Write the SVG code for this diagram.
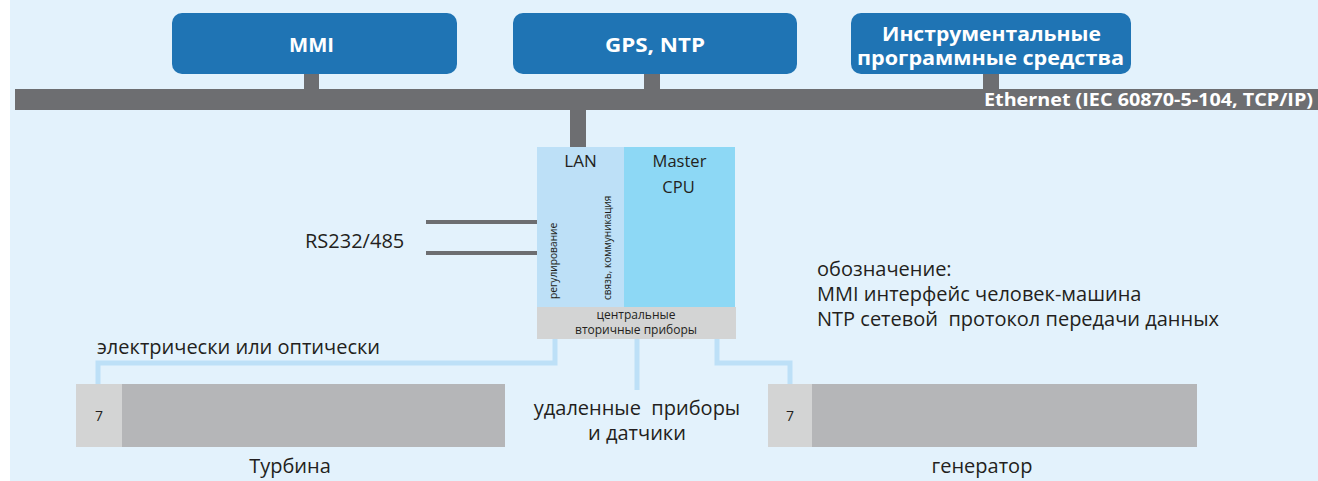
<svg xmlns="http://www.w3.org/2000/svg" width="1318" height="481" viewBox="0 0 1318 481">
<style>
.bg{fill:#e3f2fc}
.top{fill:#1f74b4}
.bar{fill:#6d6e71}
.tw{font-family:"Open Sans","Liberation Sans",sans-serif;font-weight:bold;fill:#ffffff;text-anchor:middle}
.t{font-family:"Open Sans","Liberation Sans",sans-serif;fill:#231f20}
.c{text-anchor:middle}
.lb{fill:none;stroke:#bde0f7;stroke-width:5}
.gl{fill:none;stroke:#6d6e71;stroke-width:4}
.m1{fill:#d3d4d4}
.m2{fill:#b5b6b8}
</style>
<rect class="bg" x="10" y="0" width="1308" height="481"/>
<g id="connectors">
<rect class="bar" x="304" y="72" width="15" height="20"/>
<rect class="bar" x="644" y="72" width="16" height="20"/>
<rect class="bar" x="983" y="72" width="16" height="20"/>
<rect class="bar" x="570" y="108" width="16" height="40"/>
<line class="gl" x1="426" y1="222" x2="537" y2="222"/>
<line class="gl" x1="426" y1="253" x2="537" y2="253"/>
<polyline class="lb" points="555,338 555,363 98,363 98,384"/>
<polyline class="lb" points="637,338 637,390"/>
<polyline class="lb" points="717,338 717,363 790,363 790,384"/>
</g>
<g id="ethernet">
<rect class="bar" x="15" y="89" width="1303" height="21"/>
<text class="tw" x="984" y="106" font-size="18.5" style="text-anchor:start" textLength="329" lengthAdjust="spacingAndGlyphs">Ethernet (IEC 60870-5-104, TCP/IP)</text>
</g>
<g id="mmi">
<rect class="top" x="172" y="13" width="285" height="61" rx="10"/>
<text class="tw" x="311.5" y="52" font-size="19" textLength="45" lengthAdjust="spacingAndGlyphs">MMI</text>
</g>
<g id="gps">
<rect class="top" x="513" y="13" width="284" height="61" rx="10"/>
<text class="tw" x="655" y="52" font-size="19" textLength="100" lengthAdjust="spacingAndGlyphs">GPS, NTP</text>
</g>
<g id="tools">
<rect class="top" x="851" y="13" width="280" height="61" rx="10"/>
<text class="tw" x="991.5" y="41" font-size="19" textLength="219" lengthAdjust="spacingAndGlyphs">Инструментальные</text>
<text class="tw" x="990.5" y="65" font-size="19" textLength="267" lengthAdjust="spacingAndGlyphs">программные средства</text>
</g>
<g id="cpu">
<rect x="537" y="147" width="87" height="160" fill="#bde0f7"/>
<rect x="624" y="147" width="111" height="160" fill="#8dd8f5"/>
<rect class="m1" x="537" y="307" width="199" height="32"/>
<text class="t c" x="580.5" y="167" font-size="17">LAN</text>
<text class="t c" x="679.5" y="167" font-size="16.5">Master</text>
<text class="t c" x="678.5" y="193" font-size="16.5">CPU</text>
<text class="t" transform="translate(557,299) rotate(-90)" font-size="10.2">регулирование</text>
<text class="t" transform="translate(611,300) rotate(-90)" font-size="10">связь, коммуникация</text>
<text class="t c" x="636" y="319" font-size="12">центральные</text>
<text class="t c" x="636" y="334" font-size="12">вторичные приборы</text>
</g>
<g id="rs">
<text class="t" x="305" y="248" font-size="20">RS232/485</text>
</g>
<g id="turbine">
<rect class="m2" x="76" y="384" width="429" height="63"/>
<rect class="m1" x="76" y="384" width="46" height="63"/>
<text class="t c" x="99" y="421" font-size="14">7</text>
<text class="t c" x="290" y="473" font-size="20">Турбина</text>
</g>
<g id="generator">
<rect class="m2" x="768" y="384" width="429" height="63"/>
<rect class="m1" x="768" y="384" width="44" height="63"/>
<text class="t c" x="790" y="421" font-size="14">7</text>
<text class="t c" x="982" y="473" font-size="20">генератор</text>
</g>
<g id="labels">
<text class="t" x="97" y="354" font-size="20">электрически или оптически</text>
<text class="t c" x="637" y="415" font-size="20">удаленные&#160; приборы</text>
<text class="t c" x="637" y="440" font-size="20">и датчики</text>
<text class="t" x="817" y="276" font-size="20">обозначение:</text>
<text class="t" x="817" y="301" font-size="20">MMI интерфейс человек-машина</text>
<text class="t" x="817" y="326" font-size="20">NTP сетевой&#160; протокол передачи данных</text>
</g>
</svg>
